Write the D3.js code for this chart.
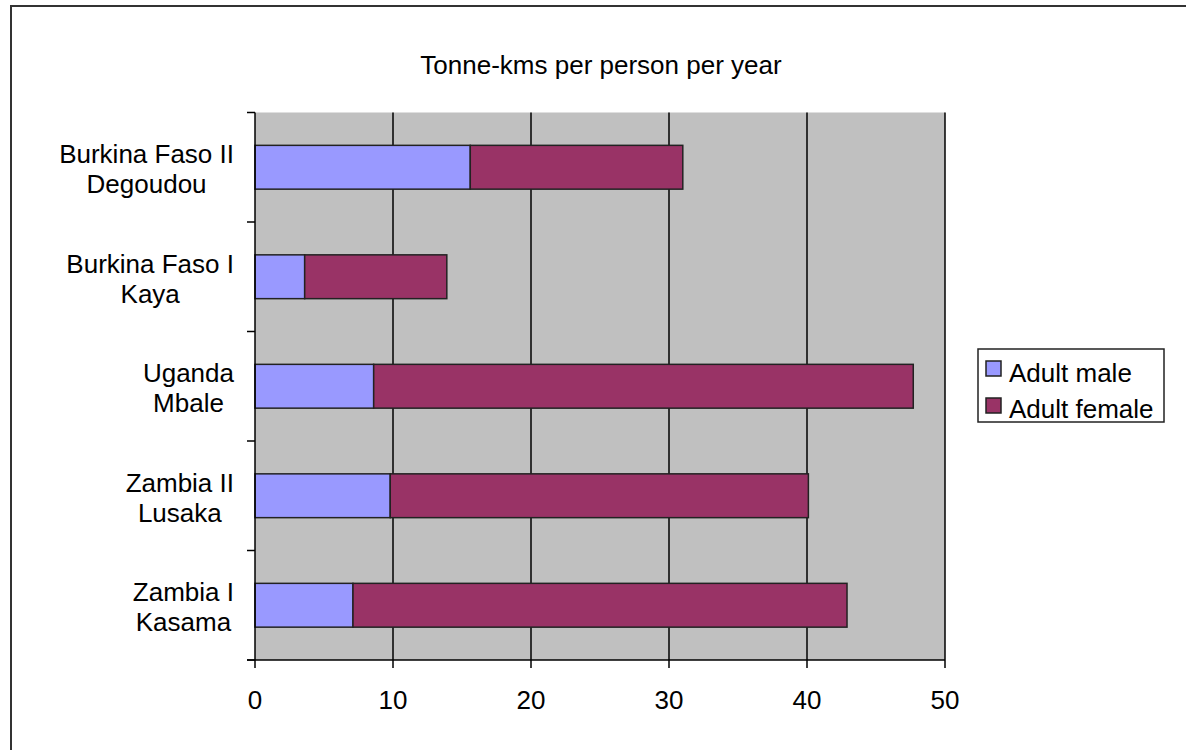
<!DOCTYPE html>
<html>
<head>
<meta charset="utf-8">
<script src="https://cdn.jsdelivr.net/npm/d3@7"></script>
<style>
  body { margin: 0; background: #fff; }
  text { font-family: "Liberation Sans", Arial, sans-serif; fill: #000; }
</style>
</head>
<body>
<script>
// data
var categories = [
  ["Burkina Faso II", "Degoudou"],
  ["Burkina Faso I", "Kaya"],
  ["Uganda", "Mbale"],
  ["Zambia II", "Lusaka"],
  ["Zambia I", "Kasama"]
];
var adultMale   = [15.6, 3.6, 8.6, 9.8, 7.1];
var adultFemale = [15.4, 10.3, 39.1, 30.3, 35.8];
var seriesNames = ["Adult male", "Adult female"];
var seriesColors = ["#9999ff", "#993366"];
var xTicks = [0, 10, 20, 30, 40, 50];

var W = 1186, H = 750;
var plot = {left: 255, right: 945, top: 112.5, bottom: 660};

var svg = d3.select("body").append("svg").attr("width", W).attr("height", H);

// outer frame (left + top edges only visible)
svg.append("path")
  .attr("d", "M11," + H + " V6 H" + W)
  .attr("fill", "none").attr("stroke", "#333").attr("stroke-width", 2);

svg.append("text")
  .attr("x", 601).attr("y", 74)
  .attr("text-anchor", "middle")
  .style("font-size", "26px")
  .text("Tonne-kms per person per year");

var x = d3.scaleLinear().domain([0, 50]).range([plot.left, plot.right]);
var y = d3.scaleBand()
  .domain(d3.range(categories.length))
  .range([plot.top, plot.bottom])
  .paddingInner(0.6).paddingOuter(0.3);

svg.append("rect")
  .attr("x", plot.left).attr("y", plot.top)
  .attr("width", plot.right - plot.left).attr("height", plot.bottom - plot.top)
  .attr("fill", "#c0c0c0");

// vertical gridlines
svg.selectAll("line.grid")
  .data(xTicks.slice(1))
  .enter().append("line")
  .attr("class", "grid")
  .attr("x1", function (d) { return x(d); }).attr("x2", function (d) { return x(d); })
  .attr("y1", plot.top).attr("y2", plot.bottom)
  .attr("stroke", "#000").attr("stroke-width", 1.5);

// stacked bars
var stack = categories.map(function (c, i) {
  return [
    {x0: 0, x1: adultMale[i], s: 0, i: i},
    {x0: adultMale[i], x1: adultMale[i] + adultFemale[i], s: 1, i: i}
  ];
});
svg.selectAll("rect.bar")
  .data(d3.merge(stack))
  .enter().append("rect")
  .attr("class", "bar")
  .attr("x", function (d) { return x(d.x0); })
  .attr("width", function (d) { return x(d.x1) - x(d.x0); })
  .attr("y", function (d) { return y(d.i); })
  .attr("height", y.bandwidth())
  .attr("fill", function (d) { return seriesColors[d.s]; })
  .attr("stroke", "#222").attr("stroke-width", 1.5);

// y axis: line + ticks at band boundaries
var yAxis = svg.append("g");
yAxis.append("line")
  .attr("x1", plot.left).attr("x2", plot.left)
  .attr("y1", plot.top).attr("y2", plot.bottom)
  .attr("stroke", "#000").attr("stroke-width", 1.5);
var step = y.step();
yAxis.selectAll("line.tick")
  .data(d3.range(categories.length + 1))
  .enter().append("line")
  .attr("class", "tick")
  .attr("x1", plot.left - 8).attr("x2", plot.left)
  .attr("y1", function (d) { return plot.top + d * step; })
  .attr("y2", function (d) { return plot.top + d * step; })
  .attr("stroke", "#000").attr("stroke-width", 1.5);

// category labels, two lines centred on each other, right edge at 234
categories.forEach(function (lines, i) {
  var cy = y(i) + y.bandwidth() / 2;
  var g = svg.append("g");
  var texts = lines.map(function (t, k) {
    return g.append("text")
      .attr("y", cy + 11 + (k - 0.5) * 30)
      .attr("text-anchor", "middle")
      .style("font-size", "26px")
      .text(t);
  });
  var maxW = d3.max(texts, function (t) { return t.node().getComputedTextLength(); });
  texts.forEach(function (t) { t.attr("x", 234 - maxW / 2); });
});

// x axis
var xAxis = svg.append("g");
xAxis.append("line")
  .attr("x1", plot.left - 8).attr("x2", plot.right)
  .attr("y1", plot.bottom).attr("y2", plot.bottom)
  .attr("stroke", "#000").attr("stroke-width", 1.5);
xAxis.selectAll("line.tick")
  .data(xTicks)
  .enter().append("line")
  .attr("class", "tick")
  .attr("x1", function (d) { return x(d); }).attr("x2", function (d) { return x(d); })
  .attr("y1", plot.bottom).attr("y2", plot.bottom + 8)
  .attr("stroke", "#000").attr("stroke-width", 1.5);
xAxis.selectAll("text")
  .data(xTicks)
  .enter().append("text")
  .attr("x", function (d) { return x(d); })
  .attr("y", 709)
  .attr("text-anchor", "middle")
  .style("font-size", "26px")
  .text(function (d) { return d; });

// legend
var legend = svg.append("g");
legend.append("rect")
  .attr("x", 978).attr("y", 349).attr("width", 186).attr("height", 73)
  .attr("fill", "#fff").attr("stroke", "#222").attr("stroke-width", 1.5);
seriesNames.forEach(function (name, i) {
  legend.append("rect")
    .attr("x", 986).attr("y", 361 + i * 37).attr("width", 15).attr("height", 15)
    .attr("fill", seriesColors[i]).attr("stroke", "#222").attr("stroke-width", 1.5);
  legend.append("text")
    .attr("x", 1009).attr("y", 382 + i * 36)
    .style("font-size", "26px")
    .text(name);
});
</script>
</body>
</html>
